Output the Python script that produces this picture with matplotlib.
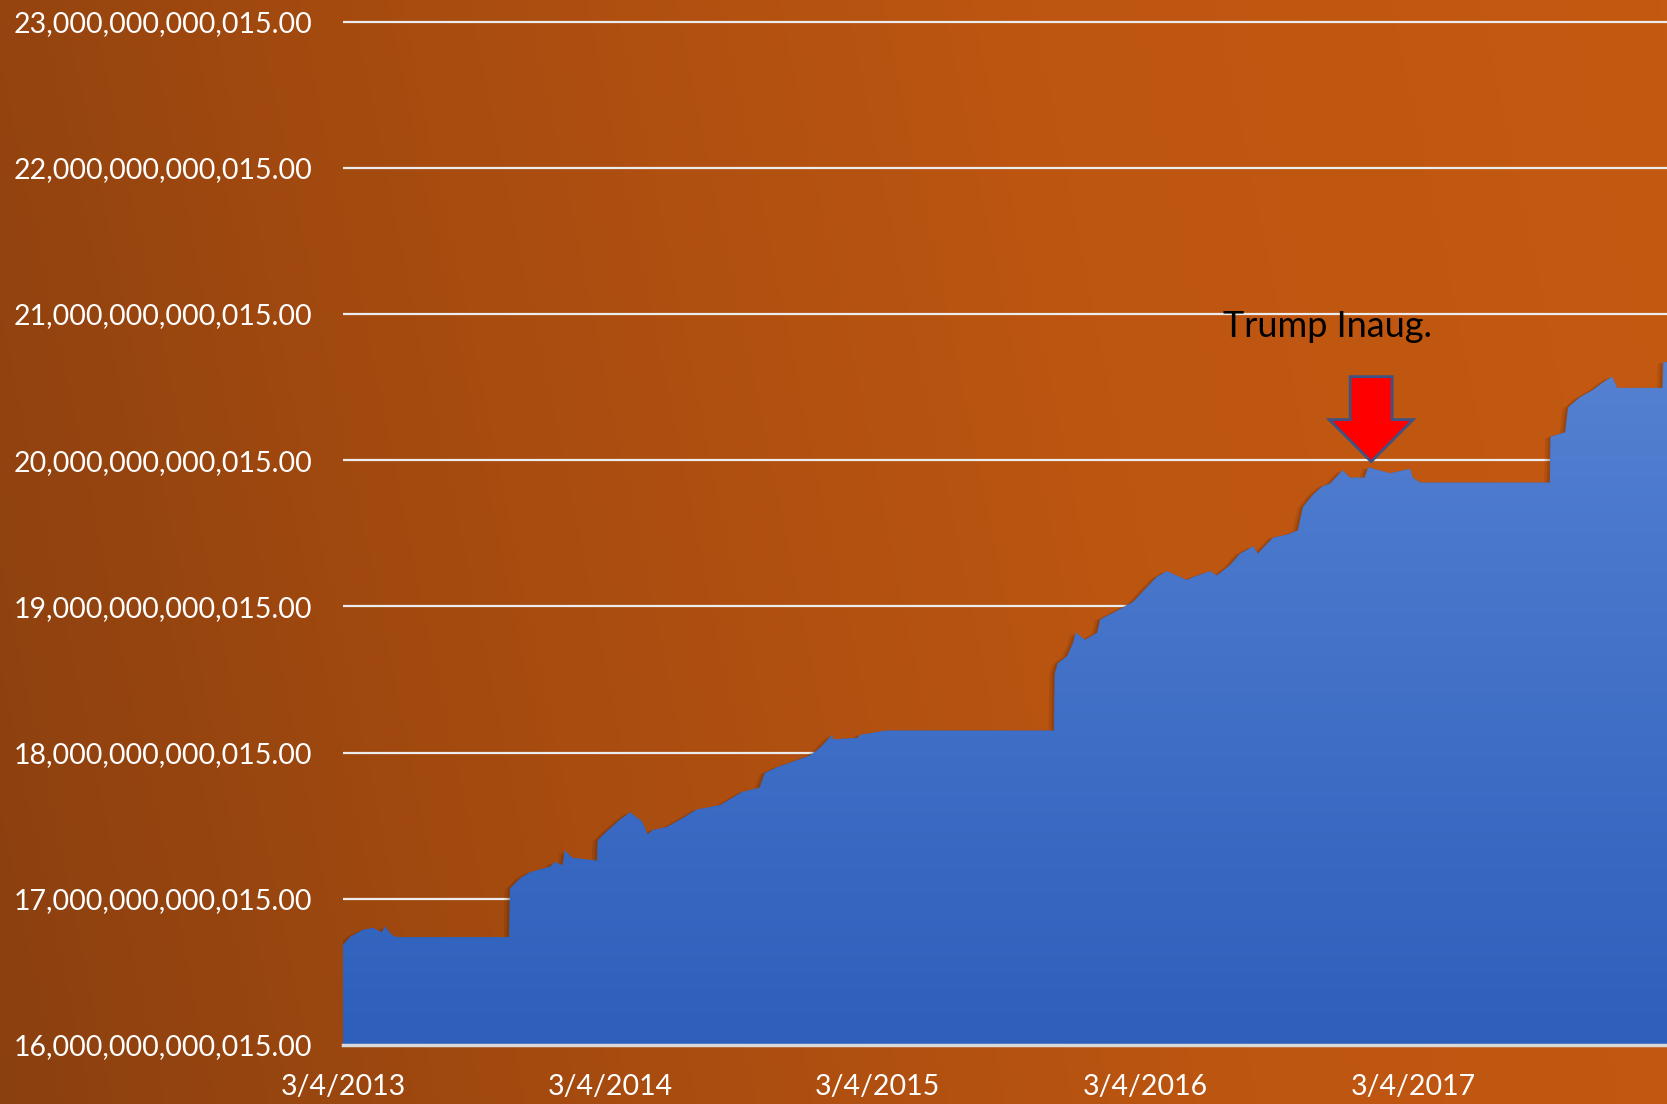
import matplotlib
matplotlib.use("Agg")
import matplotlib.pyplot as plt
import matplotlib.dates as mdates
import matplotlib.patheffects as pe
import numpy as np
import pandas as pd
from matplotlib.colors import LinearSegmentedColormap
from matplotlib.patches import Polygon
from matplotlib import transforms

plt.rcParams['font.family'] = ['Lato', 'DejaVu Sans']

# total public debt outstanding, trillions of dollars
dates = [
    '2013-03-04', '2013-03-14', '2013-03-31', '2013-04-14', '2013-04-26', '2013-04-30',
    '2013-05-10', '2013-05-17', '2013-10-17', '2013-10-18', '2013-11-01', '2013-11-14',
    '2013-12-12', '2013-12-18', '2013-12-29', '2014-01-01', '2014-01-11', '2014-02-14',
    '2014-02-15', '2014-02-27', '2014-03-17', '2014-03-31', '2014-04-16', '2014-04-24',
    '2014-05-01', '2014-05-20', '2014-06-07', '2014-06-30', '2014-08-01', '2014-08-31',
    '2014-09-24', '2014-10-01', '2014-10-18', '2014-11-04', '2014-12-02', '2014-12-15',
    '2015-01-01', '2015-01-02', '2015-02-04', '2015-02-08', '2015-03-15', '2015-10-31',
    '2015-11-01', '2015-11-05', '2015-11-18', '2015-11-26', '2015-11-30', '2015-12-12',
    '2015-12-29', '2016-01-02', '2016-01-29', '2016-02-16', '2016-02-29', '2016-03-19',
    '2016-04-02', '2016-04-29', '2016-05-08', '2016-05-31', '2016-06-09', '2016-06-27',
    '2016-07-11', '2016-07-29', '2016-08-04', '2016-08-25', '2016-09-13', '2016-09-28',
    '2016-10-05', '2016-10-18', '2016-10-31', '2016-11-11', '2016-11-28', '2016-12-08',
    '2016-12-28', '2017-01-02', '2017-02-01', '2017-02-10', '2017-02-28', '2017-03-04',
    '2017-03-14', '2017-09-07', '2017-09-08', '2017-09-28', '2017-10-02', '2017-10-18',
    '2017-11-05', '2017-11-18', '2017-12-01', '2017-12-08', '2018-02-08', '2018-02-09',
    '2018-02-14',
]
debt = [
    16.684, 16.74, 16.787, 16.80, 16.77, 16.81,
    16.75, 16.737, 16.737, 17.07, 17.14, 17.18,
    17.22, 17.25, 17.23, 17.33, 17.28, 17.26,
    17.40, 17.46, 17.54, 17.59, 17.53, 17.44,
    17.47, 17.49, 17.54, 17.61, 17.64, 17.73,
    17.76, 17.86, 17.90, 17.93, 17.98, 18.03,
    18.12, 18.09, 18.10, 18.12, 18.15, 18.15,
    18.54, 18.61, 18.66, 18.75, 18.82, 18.77,
    18.82, 18.91, 18.98, 19.03, 19.10, 19.20,
    19.24, 19.18, 19.20, 19.24, 19.21, 19.28,
    19.36, 19.41, 19.36, 19.47, 19.49, 19.52,
    19.68, 19.76, 19.82, 19.84, 19.93, 19.88,
    19.88, 19.95, 19.91, 19.92, 19.94, 19.88,
    19.846, 19.846, 20.16, 20.19, 20.36, 20.43,
    20.48, 20.53, 20.57, 20.494, 20.494, 20.67,
    20.67,
]

x_range = ['2013-03-04', '2018-02-14']
y_ticks = [16, 17, 18, 19, 20, 21, 22, 23]
y_tick_labels = [f"{t * 10**12 + 15:,}.00" for t in y_ticks]
x_ticks = ['2013-03-04', '2014-03-04', '2015-03-04', '2016-03-04', '2017-03-04']
x_tick_labels = ['3/4/2013', '3/4/2014', '3/4/2015', '3/4/2016', '3/4/2017']

note_text = 'Trump Inaug.'
note_date, note_value = '2016-11-08', 20.84
arrow_date, arrow_value = '2017-01-06', 19.99

dates = pd.to_datetime(dates)
x0, x1 = mdates.date2num(pd.to_datetime(x_range))

fig = plt.figure(figsize=(16.67, 11.04), dpi=100)

# orange/brown slide background
bg = fig.add_axes([0, 0, 1, 1], zorder=-10)
bg_cmap = LinearSegmentedColormap.from_list('bg', ['#8b400f', '#a84c10', '#bd5611', '#c45912'])
gx, gy = np.meshgrid(np.linspace(0, 1, 400), np.linspace(0, 1, 200))
bg.imshow(0.88 * gx + 0.12 * gy, cmap=bg_cmap, aspect='auto', extent=[0, 1, 0, 1], origin='lower')
bg.set_axis_off()

ax = fig.add_axes([0.2058, 0.05344, 0.7942, 0.9337])
ax.patch.set_alpha(0)

fill = ax.fill_between(dates, 16, debt, color='#2f62bd', lw=0, zorder=2)
fill.set_path_effects([
    pe.SimplePatchShadow(offset=(-4, -1), shadow_rgbFace='#3d1a03', alpha=0.12),
    pe.SimplePatchShadow(offset=(-2, -0.5), shadow_rgbFace='#3d1a03', alpha=0.18),
    pe.Normal(),
])
blue_cmap = LinearSegmentedColormap.from_list('blue', ['#2d5fbb', '#4a78cc', '#6e94dc'])
grad = ax.imshow(np.linspace(0, 1, 256).reshape(-1, 1), cmap=blue_cmap,
                 extent=[x0, x1, 16, 23], origin='lower', aspect='auto', zorder=3)
grad.set_clip_path(fill.get_paths()[0], transform=ax.transData)

ax.set_xlim(x0, x1)
ax.set_ylim(16, 23.05)
ax.set_yticks(y_ticks)
ax.set_yticklabels(y_tick_labels)
ax.set_xticks(mdates.date2num(pd.to_datetime(x_ticks)))
ax.set_xticklabels(x_tick_labels)
ax.tick_params(length=0, labelsize=20.5, labelcolor='white')
ax.tick_params(axis='y', pad=22)
ax.tick_params(axis='x', pad=21)

ax.yaxis.grid(True, color='#ececec', lw=1.6)
ax.set_axisbelow(True)
for side in ['top', 'right', 'left']:
    ax.spines[side].set_visible(False)
ax.spines['bottom'].set_color('#d9d9d9')
ax.spines['bottom'].set_linewidth(2.5)
ax.spines['bottom'].set_zorder(6)

# annotation
ax.text(mdates.date2num(pd.Timestamp(note_date)), note_value, note_text,
        ha='center', va='baseline', fontsize=26, color='black', zorder=7)

# block arrow, shape in pixels relative to its tip
arrow_shape = [(0, 0), (-42, 42), (-21, 42), (-21, 85), (21, 85), (21, 42), (42, 42)]
tip = transforms.ScaledTranslation(mdates.date2num(pd.Timestamp(arrow_date)), arrow_value, ax.transData)
arrow = Polygon(arrow_shape, closed=True, fc='#ff0000', ec='#3f5283', lw=2,
                transform=transforms.Affine2D() + tip, zorder=7, clip_on=False)
ax.add_patch(arrow)

fig.savefig('out.png', dpi=100)
